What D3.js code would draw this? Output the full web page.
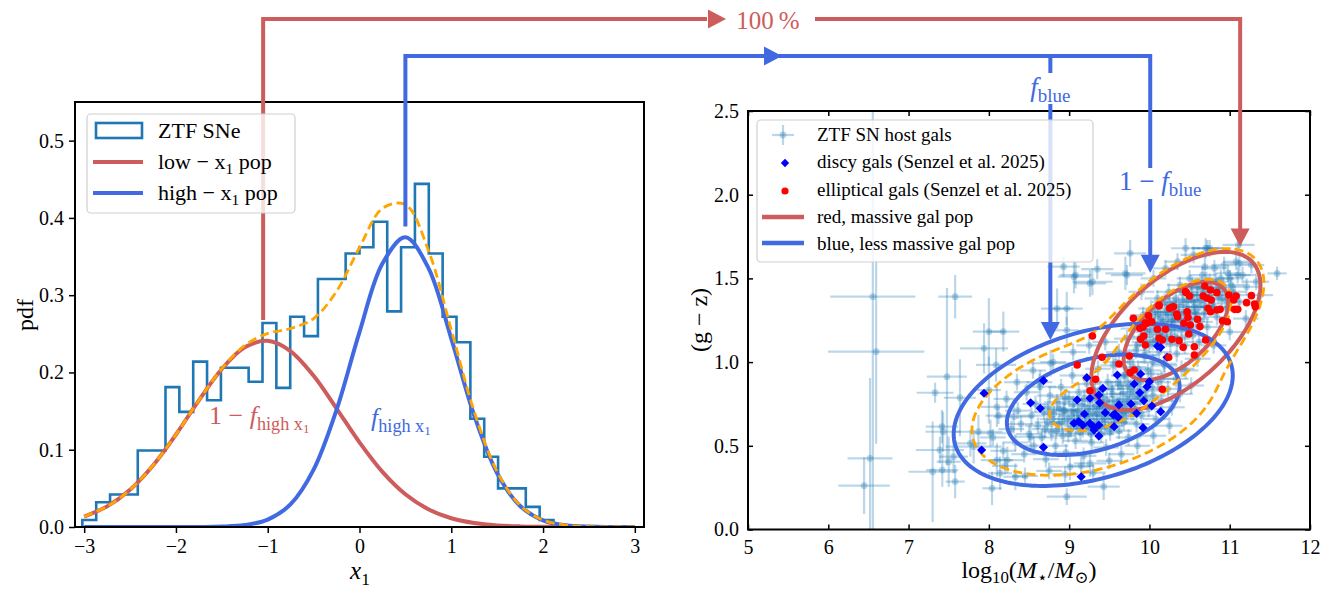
<!DOCTYPE html>
<html lang="en">
<head>
  <meta charset="UTF-8">
  <title>SN host populations</title>
  <style>
    body { margin: 0; background: #fff; }
    svg { display: block; }
  </style>
</head>
<body>
  <div id="chart"></div>

  <script src="https://d3js.org/d3.v7.min.js"></script>
  <script>
    // ---- left panel: x1 histogram and the two stretch populations ----
    const binEdges = [-3.020, -2.869, -2.718, -2.567, -2.416, -2.265, -2.114, -1.963, -1.812, -1.661,
      -1.510, -1.359, -1.208, -1.057, -0.906, -0.755, -0.604, -0.453, -0.302, -0.151,
      0.000, 0.151, 0.302, 0.453, 0.604, 0.755, 0.906, 1.057, 1.208, 1.359,
      1.510, 1.661, 1.812, 1.963, 2.114];
    const binHeights = [0.009, 0.032, 0.042, 0.042, 0.099, 0.099, 0.181, 0.149, 0.214, 0.164,
      0.206, 0.206, 0.188, 0.264, 0.180, 0.272, 0.247, 0.321, 0.321, 0.354,
      0.362, 0.395, 0.279, 0.362, 0.444, 0.354, 0.272, 0.239, 0.140, 0.091,
      0.050, 0.050, 0.026, 0.009];

    const curveX = [-3, -2.75, -2.5, -2.25, -2, -1.75, -1.5, -1.25, -1, -0.75, -0.5, -0.25, 0,
      0.25, 0.5, 0.75, 1, 1.25, 1.5, 1.75, 2, 2.25, 2.5, 2.75, 3];
    const lowPop = [0.0135, 0.0267, 0.0483, 0.0797, 0.1197, 0.1639, 0.2045, 0.2325, 0.2409, 0.2274,
      0.1956, 0.1533, 0.1095, 0.0713, 0.0423, 0.0229, 0.0113, 0.0051, 0.0021, 0.0008,
      0.0003, 0.0001, 0, 0, 0];
    const highPop = [0, 0, 0, 0, 0, 0.0001, 0.0005, 0.0025, 0.0096, 0.0295,
      0.0742, 0.1517, 0.2522, 0.3410, 0.3750, 0.3354, 0.2439, 0.1443, 0.0695, 0.0272,
      0.0087, 0.0022, 0.0005, 0.0001, 0];
    const totalPdf = [0.0135, 0.0267, 0.0483, 0.0797, 0.1197, 0.1640, 0.2050, 0.2350, 0.2505, 0.2569,
      0.2698, 0.3050, 0.3617, 0.4123, 0.4173, 0.3583, 0.2552, 0.1494, 0.0716, 0.0280,
      0.0090, 0.0023, 0.0005, 0.0001, 0];

    const xTicksL = [-3, -2, -1, 0, 1, 2, 3];
    const yTicksL = [0, 0.1, 0.2, 0.3, 0.4, 0.5];

    // ---- right panel: host galaxies ----
    const xTicksR = [5, 6, 7, 8, 9, 10, 11, 12];
    const yTicksR = [0, 0.5, 1, 1.5, 2, 2.5];

    // dense core of the host sample, typical error bars below
    const hostCore = [
      [8.05,0.55],[8.12,0.68],[8.18,0.47],[8.22,0.78],[8.28,0.60],[8.33,0.52],[8.36,0.71],[8.40,0.63],
      [8.44,0.45],[8.47,0.82],[8.50,0.57],[8.53,0.68],[8.56,0.50],[8.58,0.75],[8.61,0.62],[8.63,0.88],
      [8.66,0.55],[8.69,0.70],[8.71,0.42],[8.73,0.64],[8.76,0.80],[8.78,0.58],[8.81,0.69],[8.83,0.50],
      [8.85,0.76],[8.87,0.63],[8.90,0.85],[8.92,0.56],[8.94,0.71],[8.96,0.46],[8.98,0.66],[9.00,0.78],
      [9.02,0.60],[9.04,0.92],[9.06,0.70],[9.08,0.53],[9.10,0.65],[9.12,0.82],[9.14,0.58],[9.16,0.74],
      [9.18,0.44],[9.20,0.68],[9.22,0.87],[9.24,0.61],[9.26,0.77],[9.28,0.52],[9.30,0.70],[9.32,0.83],
      [9.34,0.64],[9.36,0.96],[9.38,0.72],[9.40,0.57],[9.42,0.79],[9.44,0.66],[9.46,0.49],[9.48,0.88],
      [9.50,0.73],[9.52,0.62],[9.54,0.81],[9.56,0.69],[9.58,1.00],[9.60,0.76],[9.62,0.59],[9.64,0.86],
      [9.66,0.71],[9.68,0.64],[9.70,0.92],[9.72,0.78],[9.74,0.55],[9.76,0.84],[9.78,0.70],[9.80,0.97],
      [9.82,0.75],[9.84,0.63],[9.86,0.89],[9.88,0.79],[9.90,0.68],[9.93,1.04],[9.96,0.83],[9.99,0.72],
      [10.02,0.93],[10.05,0.80],[10.08,0.66],[10.11,0.88],[10.15,0.77],[10.19,0.98],[10.23,0.84],[10.28,0.73],
      [10.33,0.90],[10.38,0.81],[10.45,0.95],[10.52,0.86],[8.75,0.35],[8.95,0.33],[9.15,0.38],[9.30,0.34],
      [9.50,0.41],[9.65,0.45],[9.85,0.50],[10.05,0.56],[10.25,0.62],[8.55,0.95],[8.80,1.00],[9.05,1.06],
      [9.25,1.10],[9.45,1.12],[8.35,0.88],[8.20,0.38],[8.45,0.32],
      [8.70,0.60],[8.74,0.73],[8.79,0.66],[8.84,0.59],[8.88,0.72],[8.91,0.64],[8.95,0.79],[8.99,0.57],
      [9.03,0.68],[9.05,0.75],[9.09,0.62],[9.11,0.71],[9.13,0.66],[9.17,0.60],[9.19,0.78],[9.21,0.63],
      [9.23,0.72],[9.25,0.68],[9.27,0.57],[9.29,0.80],[9.31,0.62],[9.33,0.74],[9.35,0.69],[9.37,0.60],
      [9.39,0.84],[9.41,0.66],[9.43,0.73],[9.45,0.61],[9.47,0.77],[9.49,0.68],[9.51,0.58],[9.53,0.84],
      [9.55,0.74],[9.57,0.64],[9.59,0.70],[9.61,0.88],[9.63,0.77],[9.65,0.66],[9.67,0.81],[9.69,0.73],
      [9.71,0.68],[9.73,0.86],[9.75,0.76],[9.79,0.82],[9.81,0.70],[9.85,0.80],[9.89,0.88],[9.94,0.78],
      [9.98,0.95],[10.03,0.85],
      [9.55,0.98],[9.62,1.06],[9.68,0.92],[9.72,1.14],[9.76,1.00],[9.80,1.20],[9.83,1.07],[9.86,0.96],
      [9.89,1.15],[9.92,1.28],[9.95,1.04],[9.97,1.18],[10.00,1.10],[10.02,1.32],[10.04,1.00],[10.06,1.22],
      [10.08,1.13],[10.10,1.38],[10.12,1.06],[10.14,1.26],[10.16,1.17],[10.18,0.99],[10.20,1.30],[10.22,1.20],
      [10.24,1.42],[10.26,1.11],[10.28,1.25],[10.30,1.34],[10.32,1.15],[10.34,1.05],[10.36,1.28],[10.38,1.46],
      [10.40,1.19],[10.42,1.36],[10.44,1.10],[10.46,1.30],[10.48,1.22],[10.50,1.50],[10.52,1.40],[10.54,1.16],
      [10.56,1.33],[10.58,1.26],[10.60,1.45],[10.62,1.12],[10.64,1.37],[10.66,1.52],[10.68,1.29],[10.70,1.42],
      [10.72,1.21],[10.75,1.48],[10.78,1.35],[10.81,1.56],[10.84,1.27],[10.87,1.44],[10.90,1.38],[10.93,1.58],
      [10.96,1.32],[11.00,1.50],[11.04,1.42],[11.08,1.60],[11.12,1.36],[11.16,1.52],[11.21,1.45],[11.27,1.58],
      [11.33,1.48],[9.90,1.42],[10.05,1.50],[10.20,1.56],[10.35,1.60],[10.55,1.64],[10.75,1.68],[10.40,0.96],
      [10.60,1.02],[10.80,1.10],[11.00,1.18],[11.20,1.26],[10.15,0.90],[11.38,1.40],
      [9.85,1.10],[9.90,1.22],[9.94,1.12],[9.98,1.27],[10.01,1.19],[10.04,1.12],[10.07,1.30],[10.09,1.20],
      [10.11,1.29],[10.13,1.16],[10.17,1.24],[10.19,1.36],[10.21,1.14],[10.23,1.28],[10.25,1.35],[10.27,1.19],
      [10.29,1.30],[10.31,1.24],[10.33,1.38],[10.35,1.14],[10.37,1.33],[10.39,1.25],[10.41,1.42],[10.43,1.29],
      [10.45,1.20],[10.47,1.37],[10.49,1.31],[10.51,1.26],[10.53,1.45],[10.55,1.36],[10.57,1.29],[10.59,1.40],
      [10.61,1.33],[10.63,1.24],[10.65,1.44],[10.67,1.40],[10.69,1.33],[10.71,1.49],[10.74,1.38],[10.77,1.44],
      [10.80,1.33],[10.83,1.48],[10.86,1.40],[10.89,1.50],[10.92,1.45],[10.95,1.37],[10.98,1.53],[11.02,1.46],
      [11.06,1.40],[11.10,1.52]
    ];
    const coreErr = [0.16, 0.05];

    // sparser hosts: [logM, g-z, xerr, yerr]
    const hostSparse = [
      [6.555,1.391,0.53,1.45],[6.596,1.062,0.60,0.55],[6.520,0.425,0.28,0.48],[6.446,0.262,0.32,0.17],
      [7.580,1.391,0.21,0.13],[7.478,0.913,0.25,0.53],[7.330,0.817,0.23,0.06],[7.640,0.787,0.20,0.23],
      [7.415,0.614,0.20,0.10],[7.430,0.584,0.22,0.12],[7.390,0.475,0.30,0.08],[7.500,0.405,0.15,0.15],
      [7.420,0.355,0.20,0.10],[7.300,0.345,0.30,0.30],[7.580,0.286,0.12,0.10],[7.940,1.082,0.30,0.15],
      [8.000,1.182,0.20,0.20],[8.180,1.182,0.20,0.12],[8.090,0.983,0.25,0.10],[8.000,0.833,0.15,0.20],
      [8.040,0.246,0.12,0.10],[8.330,0.315,0.15,0.08],[8.100,0.415,0.20,0.10],[7.870,0.584,0.30,0.10],
      [7.810,0.495,0.35,0.10],[7.770,0.515,0.20,0.08],[7.560,0.435,0.18,0.10],[8.020,0.575,0.20,0.08],
      [8.100,0.733,0.20,0.12],[8.310,0.674,0.25,0.10],[8.230,0.415,0.20,0.08],[8.140,0.336,0.15,0.10],
      [8.520,0.554,0.20,0.08],[8.770,0.993,0.25,0.08],[8.640,0.853,0.20,0.10],[8.930,0.714,0.20,0.08],
      [9.010,0.375,0.25,0.08],[9.260,0.395,0.20,0.08],[9.430,0.256,0.20,0.08],[8.970,0.196,0.25,0.05],
      [8.930,1.570,0.20,0.06],[9.060,1.510,0.20,0.10],[9.290,1.480,0.25,0.08],[9.350,1.555,0.20,0.06],
      [8.850,1.320,0.20,0.12],[8.970,1.320,0.20,0.10],[8.970,1.190,0.15,0.08],[9.760,1.650,0.20,0.08],
      [10.700,1.680,0.17,0.06],[11.110,1.700,0.20,0.06],[11.590,1.530,0.12,0.04],[9.700,1.530,0.25,0.10],
      [9.260,1.470,0.20,0.08],[9.080,1.520,0.20,0.08],[9.720,1.520,0.20,0.06],[10.450,1.680,0.18,0.06],
      [10.720,1.680,0.20,0.05],[10.690,1.570,0.20,0.06],[11.120,1.590,0.15,0.05]
    ];

    const discyGals = [
      [7.91,0.475],[7.94,0.814],[8.52,0.757],[8.64,0.724],[8.68,0.889],[8.68,0.491],[9.06,0.634],[9.10,0.774],
      [9.12,0.644],[9.15,0.315],[9.17,0.624],[9.19,0.690],[9.22,0.907],[9.26,0.784],[9.26,0.634],[9.31,0.610],
      [9.31,0.594],[9.37,0.803],[9.37,0.624],[9.37,0.558],[9.38,0.757],[9.42,0.843],[9.45,0.698],[9.55,0.684],
      [9.56,0.614],[9.60,0.923],[9.62,0.744],[9.57,0.690],[9.61,0.670],[9.77,0.750],[9.81,0.869],[9.84,0.694],
      [9.88,0.817],[9.89,0.929],[9.92,0.608],[9.93,0.769],[9.97,0.853],[10.00,0.883],[10.03,0.738],[10.10,1.096],
      [10.14,1.088],[10.14,0.704],[10.22,1.029]
    ];

    const ellipGals = [
      [10.46,1.415],[10.50,1.395],[10.69,1.455],[10.76,1.431],[10.84,1.415],[10.67,1.395],[10.72,1.381],[10.77,1.371],
      [10.99,1.401],[11.05,1.371],[11.08,1.395],[11.21,1.355],[11.27,1.397],[11.31,1.347],[11.06,1.315],[11.10,1.315],
      [10.12,1.335],[10.25,1.321],[10.30,1.331],[10.47,1.301],[10.73,1.321],[10.76,1.301],[10.84,1.311],[10.88,1.315],
      [10.34,1.287],[10.48,1.268],[10.60,1.256],[10.51,1.222],[9.80,1.262],[9.99,1.276],[9.95,1.235],[10.03,1.241],
      [9.88,1.202],[9.92,1.208],[9.97,1.232],[10.10,1.196],[10.20,1.196],[10.63,1.212],[10.91,1.247],[10.97,1.241],
      [9.93,1.156],[9.89,1.136],[10.12,1.142],[10.16,1.132],[10.49,1.168],[10.37,1.128],[10.70,1.132],[10.42,1.088],
      [10.56,1.092],[10.56,1.042],[10.24,1.029],[9.75,1.036],[9.62,0.989],[9.76,0.937],[9.81,0.953],[10.16,0.838],
      [9.29,1.156],[9.41,1.029],[9.10,0.983],[9.33,0.897],[9.26,0.829],[10.12,1.341],[10.28,1.327],[10.45,1.421],
      [10.35,1.271],[10.43,1.232],[10.28,1.136],[9.95,1.102],[11.32,1.330]
    ];

    // Gaussian populations in (logM, g-z): mean, sigma, correlation
    const blueMean = [9.30, 0.745], blueSigma = [0.71, 0.198], blueRho = 0.36;
    const redMean = [10.33, 1.186], redSigma = [0.43, 0.193], redRho = 0.58;
    const contourK = [1.515, 2.448];          // 68% and 95% contours
    const mixWeights = [0.42, 0.58];          // blue, red share of the total model
    const mixLevels = [0.053, 0.381];         // density levels of the total-model contours

    const C = {
      hist: '#1f77b4', red: '#cd5c5c', blue: '#4169e1', orange: '#ffa500',
      discy: '#0000ff', ellip: '#ff0000'
    };
    const FONT = "'Liberation Serif', 'DejaVu Serif', serif";

    const svg = d3.select('#chart').append('svg')
      .attr('width', 1344).attr('height', 589)
      .attr('font-family', FONT);
    svg.append('rect').attr('width', 1344).attr('height', 589).attr('fill', '#fff');
    const defs = svg.append('defs');

    // text with italic / subscript parts
    function mathText(g, x, y, parts, o) {
      const t = g.append('text').attr('x', x).attr('y', y)
        .attr('font-size', o.size).attr('fill', o.color || '#000')
        .attr('text-anchor', o.anchor || 'start');
      if (o.rotate) t.attr('transform', `rotate(-90,${x},${y})`);
      let shift = 0;
      parts.forEach(p => {
        const lvl = p.sub || 0;
        const target = [0, 0.22, 0.34][lvl] * o.size;
        const s = t.append('tspan').text(p.t).attr('dy', target - shift);
        shift = target;
        if (lvl) s.attr('font-size', o.size * [1, 0.7, 0.5][lvl]);
        if (p.it) s.attr('font-style', 'italic');
      });
      return t;
    }

    // ================= left panel =================
    const L = { l: 75, r: 644, t: 102, b: 527 };
    const xL = d3.scaleLinear().domain([-3.1, 3.1]).range([L.l, L.r]);
    const yL = d3.scaleLinear().domain([0, 0.55]).range([L.b, L.t]);

    defs.append('clipPath').attr('id', 'clipL').append('rect')
      .attr('x', L.l).attr('y', L.t).attr('width', L.r - L.l).attr('height', L.b - L.t);
    const plotL = svg.append('g').attr('clip-path', 'url(#clipL)');

    const histPts = [[binEdges[0], 0]];
    binHeights.forEach((h, i) => histPts.push([binEdges[i], h], [binEdges[i + 1], h]));
    histPts.push([binEdges[binEdges.length - 1], 0]);
    plotL.append('path').datum(histPts)
      .attr('d', d3.line().x(d => xL(d[0])).y(d => yL(d[1])))
      .attr('fill', 'none').attr('stroke', C.hist).attr('stroke-width', 2.6);

    const pdfLine = d3.line().x((d, i) => xL(curveX[i])).y(d => yL(d)).curve(d3.curveCatmullRom);
    plotL.append('path').datum(lowPop).attr('d', pdfLine)
      .attr('fill', 'none').attr('stroke', C.red).attr('stroke-width', 4);
    plotL.append('path').datum(highPop).attr('d', pdfLine)
      .attr('fill', 'none').attr('stroke', C.blue).attr('stroke-width', 4);
    plotL.append('path').datum(totalPdf).attr('d', pdfLine)
      .attr('fill', 'none').attr('stroke', C.orange).attr('stroke-width', 2.8)
      .attr('stroke-dasharray', '9,4.5');

    // axes
    svg.append('g').attr('transform', `translate(0,${L.b})`)
      .call(d3.axisBottom(xL).tickValues(xTicksL).tickSize(6).tickPadding(6).tickFormat(d3.format('d')))
      .call(g => g.select('.domain').remove());
    svg.append('g').attr('transform', `translate(${L.l},0)`)
      .call(d3.axisLeft(yL).tickValues(yTicksL).tickSize(6).tickPadding(5).tickFormat(d3.format('.1f')))
      .call(g => g.select('.domain').remove());

    mathText(svg, 360, 579, [{ t: 'x', it: 1 }, { t: '1', sub: 1 }], { size: 25, anchor: 'middle' });
    mathText(svg, 33, 315, [{ t: 'pdf' }], { size: 24, anchor: 'middle', rotate: 1 });

    mathText(svg, 209, 424, [{ t: '1 − ' }, { t: 'f', it: 1 }, { t: 'high x', sub: 1 }, { t: '1', sub: 2 }],
      { size: 26, color: C.red });
    mathText(svg, 371, 426, [{ t: 'f', it: 1 }, { t: 'high x', sub: 1 }, { t: '1', sub: 2 }],
      { size: 26, color: C.blue });

    // ================= right panel =================
    const R = { l: 748, r: 1310, t: 111, b: 529.5 };
    const xR = d3.scaleLinear().domain([5, 12]).range([R.l, R.r]);
    const yR = d3.scaleLinear().domain([0, 2.5]).range([R.b, R.t]);

    defs.append('clipPath').attr('id', 'clipR').append('rect')
      .attr('x', R.l).attr('y', R.t).attr('width', R.r - R.l).attr('height', R.b - R.t);
    const plotR = svg.append('g').attr('clip-path', 'url(#clipR)');

    const hostAll = hostCore.map(d => [d[0], d[1], coreErr[0], coreErr[1]]).concat(hostSparse);
    const eg = plotR.append('g').attr('stroke', C.hist).attr('stroke-opacity', 0.3).attr('stroke-width', 2.2);
    eg.selectAll('line.xe').data(hostAll).join('line').attr('class', 'xe')
      .attr('x1', d => xR(d[0] - d[2])).attr('x2', d => xR(d[0] + d[2]))
      .attr('y1', d => yR(d[1])).attr('y2', d => yR(d[1]));
    eg.selectAll('line.ye').data(hostAll).join('line').attr('class', 'ye')
      .attr('x1', d => xR(d[0])).attr('x2', d => xR(d[0]))
      .attr('y1', d => yR(d[1] - d[3])).attr('y2', d => yR(d[1] + d[3]));
    plotR.append('g').selectAll('circle').data(hostAll).join('circle')
      .attr('cx', d => xR(d[0])).attr('cy', d => yR(d[1])).attr('r', 3.4)
      .attr('fill', C.hist).attr('fill-opacity', 0.3);

    // population ellipses
    function ellipse(mean, sig, rho, k) {
      const q = Math.sqrt(1 - rho * rho);
      return d3.range(0, 361, 2).map(a => {
        const t = a * Math.PI / 180;
        return [xR(mean[0] + k * sig[0] * Math.cos(t)),
                yR(mean[1] + k * sig[1] * (rho * Math.cos(t) + q * Math.sin(t)))];
      });
    }
    const closed = d3.line().curve(d3.curveLinearClosed);
    contourK.forEach(k => {
      plotR.append('path').attr('d', closed(ellipse(redMean, redSigma, redRho, k)))
        .attr('fill', 'none').attr('stroke', C.red).attr('stroke-width', 4);
      plotR.append('path').attr('d', closed(ellipse(blueMean, blueSigma, blueRho, k)))
        .attr('fill', 'none').attr('stroke', C.blue).attr('stroke-width', 4);
    });

    // total-model contours
    function gauss(x, y, m, s, r) {
      const u = (x - m[0]) / s[0], v = (y - m[1]) / s[1];
      const q = (u * u + v * v - 2 * r * u * v) / (1 - r * r);
      return Math.exp(-q / 2) / (2 * Math.PI * s[0] * s[1] * Math.sqrt(1 - r * r));
    }
    const gw = 560, gh = 250, cw = 7 / gw, ch = 2.5 / gh;
    const grid = new Float64Array(gw * gh);
    for (let j = 0; j < gh; j++) {
      for (let i = 0; i < gw; i++) {
        const x = 5 + (i + 0.5) * cw, y = (j + 0.5) * ch;
        grid[j * gw + i] = mixWeights[0] * gauss(x, y, blueMean, blueSigma, blueRho)
          + mixWeights[1] * gauss(x, y, redMean, redSigma, redRho);
      }
    }
    const cPath = d3.geoPath(d3.geoTransform({
      point(px, py) { this.stream.point(xR(5 + px * cw), yR(py * ch)); }
    }));
    plotR.append('g').selectAll('path')
      .data(d3.contours().size([gw, gh]).thresholds(mixLevels)(grid))
      .join('path').attr('d', cPath)
      .attr('fill', 'none').attr('stroke', C.orange).attr('stroke-width', 2.8)
      .attr('stroke-dasharray', '9,4.5');

    const diamond = r => `M0,${-r}L${r},0L0,${r}L${-r},0Z`;
    plotR.append('g').selectAll('path').data(discyGals).join('path')
      .attr('d', diamond(4.6)).attr('transform', d => `translate(${xR(d[0])},${yR(d[1])})`)
      .attr('fill', C.discy);
    plotR.append('g').selectAll('circle').data(ellipGals).join('circle')
      .attr('cx', d => xR(d[0])).attr('cy', d => yR(d[1])).attr('r', 3.8)
      .attr('fill', C.ellip);

    // axes, ticks pointing inward on all sides
    svg.append('g').attr('transform', `translate(0,${R.b})`)
      .call(d3.axisBottom(xR).tickValues(xTicksR).tickSizeInner(-5).tickSizeOuter(0).tickPadding(10).tickFormat(d3.format('d')))
      .call(g => g.select('.domain').remove());
    svg.append('g').attr('transform', `translate(0,${R.t})`)
      .call(d3.axisTop(xR).tickValues(xTicksR).tickSizeInner(-5).tickSizeOuter(0).tickFormat(''))
      .call(g => g.select('.domain').remove());
    svg.append('g').attr('transform', `translate(${R.l},0)`)
      .call(d3.axisLeft(yR).tickValues(yTicksR).tickSizeInner(-5).tickSizeOuter(0).tickPadding(9).tickFormat(d3.format('.1f')))
      .call(g => g.select('.domain').remove());
    svg.append('g').attr('transform', `translate(${R.r},0)`)
      .call(d3.axisRight(yR).tickValues(yTicksR).tickSizeInner(-5).tickSizeOuter(0).tickFormat(''))
      .call(g => g.select('.domain').remove());

    mathText(svg, 1029, 578, [{ t: 'log' }, { t: '10', sub: 1 }, { t: '(' }, { t: 'M', it: 1 }, { t: '⋆', sub: 1 },
      { t: '/' }, { t: 'M', it: 1 }, { t: '⊙', sub: 1 }, { t: ')' }], { size: 24, anchor: 'middle' });
    mathText(svg, 707, 320, [{ t: '(g − z)' }], { size: 24, anchor: 'middle', rotate: 1 });

    // tick text style and spines
    svg.selectAll('.tick text').attr('font-family', FONT).attr('font-size', 20).attr('fill', '#000');
    svg.selectAll('.tick line').attr('stroke', '#000').attr('stroke-width', 1.5);
    [L, R].forEach(b => svg.append('rect')
      .attr('x', b.l).attr('y', b.t).attr('width', b.r - b.l).attr('height', b.b - b.t)
      .attr('fill', 'none').attr('stroke', '#000').attr('stroke-width', 2));

    // ================= connecting arrows =================
    const arrowX = { low: -1.05, high: 0.5, blueA: 8.766, blueB: 10.01, red: 11.13 };
    const arrowEnd = { low: 0.268, high: 0.389, blueA: 1.132, blueB: 1.534, red: 1.69 };
    const rowRed = 19, rowBlue = 56, head = 18, half = 9.5;
    const ag = svg.append('g').attr('fill', 'none').attr('stroke-width', 4);
    const headR = (x, y, c) => svg.append('path').attr('fill', c)
      .attr('d', `M${x - head},${y - half}L${x},${y}L${x - head},${y + half}Z`);
    const headD = (x, y, c) => svg.append('path').attr('fill', c)
      .attr('d', `M${x - half},${y - head}L${x},${y}L${x + half},${y - head}Z`);

    const xa = k => (k === 'low' || k === 'high') ? xL(arrowX[k]) : xR(arrowX[k]);
    const ya = k => (k === 'low' || k === 'high') ? yL(arrowEnd[k]) : yR(arrowEnd[k]);

    ag.append('path').attr('stroke', C.red)
      .attr('d', `M${xa('low')},${ya('low')}V${rowRed}H${725 - head}`);
    headR(726, rowRed, C.red);
    ag.append('path').attr('stroke', C.red)
      .attr('d', `M815,${rowRed}H${xa('red')}V${ya('red') - head + 1}`);
    headD(xa('red'), ya('red'), C.red);
    svg.append('text').attr('x', 768).attr('y', 29).attr('text-anchor', 'middle')
      .attr('font-size', 25).attr('fill', C.red).text('100\u2009%');

    ag.append('path').attr('stroke', C.blue)
      .attr('d', `M${xa('high')},${ya('high')}V${rowBlue}H${xa('blueB')}V168`);
    headR(782, rowBlue, C.blue);
    ag.append('path').attr('stroke', C.blue).attr('d', `M${xa('blueA')},${rowBlue}V73`);
    ag.append('path').attr('stroke', C.blue)
      .attr('d', `M${xa('blueA')},104V${ya('blueA') - head + 1}`);
    headD(xa('blueA'), ya('blueA'), C.blue);
    ag.append('path').attr('stroke', C.blue)
      .attr('d', `M${xa('blueB')},199V${ya('blueB') - head + 1}`);
    headD(xa('blueB'), ya('blueB'), C.blue);

    mathText(svg, xa('blueA'), 96, [{ t: 'f', it: 1 }, { t: 'blue', sub: 1 }],
      { size: 27, color: C.blue, anchor: 'middle' });
    mathText(svg, xa('blueB') + 10, 190, [{ t: '1 − ' }, { t: 'f', it: 1 }, { t: 'blue', sub: 1 }],
      { size: 27, color: C.blue, anchor: 'middle' });

    // ================= legends =================
    const legBox = (x, y, w, h) => svg.append('rect').attr('x', x).attr('y', y)
      .attr('width', w).attr('height', h).attr('rx', 4)
      .attr('fill', '#fff').attr('fill-opacity', 0.8)
      .attr('stroke', '#d0d0d0').attr('stroke-width', 1.2);

    legBox(87, 114, 208, 99);
    svg.append('rect').attr('x', 96).attr('y', 123).attr('width', 46).attr('height', 15)
      .attr('fill', 'none').attr('stroke', C.hist).attr('stroke-width', 2.6);
    svg.append('line').attr('x1', 93).attr('x2', 143).attr('y1', 162).attr('y2', 162)
      .attr('stroke', C.red).attr('stroke-width', 4);
    svg.append('line').attr('x1', 93).attr('x2', 143).attr('y1', 193).attr('y2', 193)
      .attr('stroke', C.blue).attr('stroke-width', 4);
    mathText(svg, 158, 138, [{ t: 'ZTF SNe' }], { size: 22 });
    mathText(svg, 158, 169, [{ t: 'low − x' }, { t: '1', sub: 1 }, { t: ' pop' }], { size: 22 });
    mathText(svg, 158, 200, [{ t: 'high − x' }, { t: '1', sub: 1 }, { t: ' pop' }], { size: 22 });

    legBox(757, 120, 336, 142);
    const sx = 783;
    const lg = svg.append('g').attr('stroke', C.hist).attr('stroke-opacity', 0.3).attr('stroke-width', 2.2);
    lg.append('line').attr('x1', sx - 11).attr('x2', sx + 11).attr('y1', 135).attr('y2', 135);
    lg.append('line').attr('x1', sx).attr('x2', sx).attr('y1', 125).attr('y2', 145);
    svg.append('circle').attr('cx', sx).attr('cy', 135).attr('r', 3.4).attr('fill', C.hist).attr('fill-opacity', 0.3);
    svg.append('path').attr('d', diamond(4.2)).attr('transform', `translate(${sx + 2},163)`).attr('fill', C.discy);
    svg.append('circle').attr('cx', sx + 2).attr('cy', 191).attr('r', 3.6).attr('fill', C.ellip);
    svg.append('line').attr('x1', 762).attr('x2', 804).attr('y1', 217).attr('y2', 217)
      .attr('stroke', C.red).attr('stroke-width', 4.5);
    svg.append('line').attr('x1', 762).attr('x2', 804).attr('y1', 243).attr('y2', 243)
      .attr('stroke', C.blue).attr('stroke-width', 4.5);
    const legR = ['ZTF SN host gals', 'discy gals (Senzel et al. 2025)', 'elliptical gals (Senzel et al. 2025)',
      'red, massive gal pop', 'blue, less massive gal pop'];
    legR.forEach((s, i) => svg.append('text').attr('x', 817).attr('y', 141 + i * 27.3)
      .attr('font-size', 19).text(s));
  </script>
</body>
</html>
